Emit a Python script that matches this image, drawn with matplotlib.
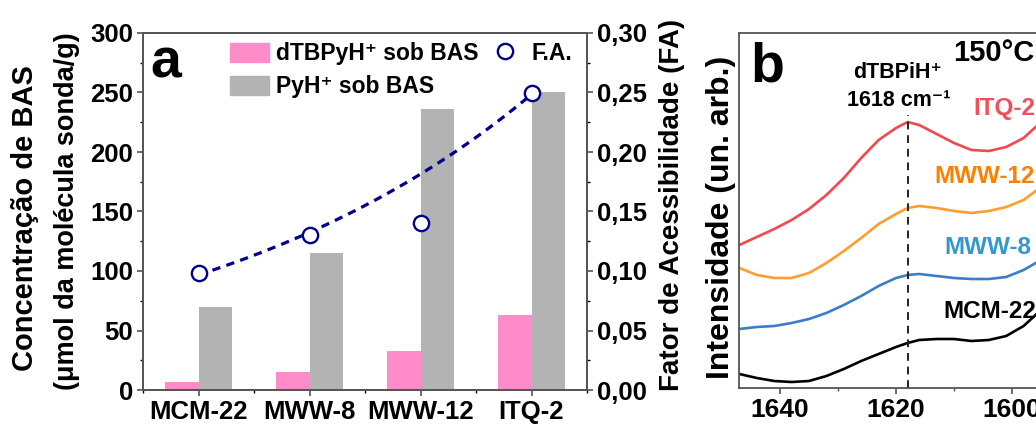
import numpy as np
import matplotlib
matplotlib.use('Agg')
import matplotlib.pyplot as plt
from matplotlib.patches import Patch
from matplotlib.lines import Line2D
from matplotlib.ticker import MultipleLocator, FuncFormatter

plt.rcParams['font.family'] = ['Liberation Sans', 'DejaVu Sans']
plt.rcParams['font.weight'] = 'bold'

# Panel a data
samples = ['MCM-22', 'MWW-8', 'MWW-12', 'ITQ-2']
dtbpy_bas = [7, 15, 33, 63]
pyh_bas = [70, 115, 236, 250]
fa = [0.098, 0.130, 0.140, 0.250]
fit_samples = ['MCM-22', 'MWW-8', 'ITQ-2']

# Panel b data (IR spectra)
wavenumber = [1647, 1644, 1641, 1638, 1635, 1632, 1629, 1626, 1623, 1620,
              1618, 1616, 1613, 1610, 1607, 1604, 1601, 1598, 1595]
itq2 = [1.43, 1.51, 1.59, 1.68, 1.79, 1.93, 2.10, 2.30, 2.48, 2.60,
        2.66, 2.63, 2.54, 2.45, 2.38, 2.37, 2.41, 2.50, 2.66]
mww12 = [1.20, 1.13, 1.10, 1.10, 1.15, 1.25, 1.37, 1.50, 1.64, 1.74,
         1.80, 1.82, 1.80, 1.77, 1.75, 1.77, 1.81, 1.88, 2.01]
mww8 = [0.59, 0.61, 0.62, 0.65, 0.69, 0.75, 0.83, 0.92, 1.02, 1.10,
        1.13, 1.14, 1.12, 1.10, 1.09, 1.09, 1.11, 1.18, 1.28]
mcm22 = [0.14, 0.10, 0.07, 0.06, 0.07, 0.12, 0.19, 0.27, 0.34, 0.41,
         0.45, 0.48, 0.49, 0.49, 0.47, 0.48, 0.52, 0.62, 0.78]
peak_wn = 1618

W, H = 1036, 426
spine_col = '#555555'
navy = '#00008b'


def box(x0, y0, x1, y1):
    return [x0 / W, 1 - y1 / H, (x1 - x0) / W, (y1 - y0) / H]


def style_spines(ax):
    for s in ax.spines.values():
        s.set_color(spine_col)
        s.set_linewidth(1.3)


fig = plt.figure(figsize=(W / 100, H / 100), dpi=100)

# ---- panel a ----
ax = fig.add_axes(box(143, 33, 587, 390))
ax2 = ax.twinx()
x = np.arange(len(samples))
ax.bar(x - 0.15, dtbpy_bas, 0.3, color='#ff8cc8')
ax.bar(x + 0.15, pyh_bas, 0.3, color='#b3b3b3')
ax.set_xlim(-0.5, 3.5)
ax.set_ylim(0, 300)
ax.set_xticks(x)
ax.set_xticklabels(samples)
ax.xaxis.set_minor_locator(MultipleLocator(0.5))
ax.yaxis.set_major_locator(MultipleLocator(50))
ax.yaxis.set_minor_locator(MultipleLocator(25))
ax2.set_ylim(0, 0.30)
ax2.yaxis.set_major_locator(MultipleLocator(0.05))
ax2.yaxis.set_minor_locator(MultipleLocator(0.025))
ax2.yaxis.set_major_formatter(FuncFormatter(lambda v, p: f'{v:.2f}'.replace('.', ',')))

for a in (ax, ax2):
    style_spines(a)
    a.tick_params(which='major', direction='out', length=4, width=1.2,
                  labelsize=18.5, colors='black', pad=3)
    a.tick_params(which='minor', direction='out', length=2.5, width=1.0)
    a.tick_params(axis='both', color=spine_col)
ax.tick_params(axis='x', pad=3)

# exponential guide through F.A. values
idx = [samples.index(s) for s in fit_samples]
coef = np.polyfit(x[idx], np.log(np.array(fa)[idx]), 1)
xf = np.linspace(0, 3, 100)
ax2.plot(xf, np.exp(np.polyval(coef, xf)), color=navy, lw=2.3,
         ls=(0, (2.6, 2.0)), zorder=3)
ax2.plot(x, fa, 'o', mfc='white', mec=navy, ms=11, mew=1.7, zorder=4)

handles = [Patch(color='#ff8cc8'), Patch(color='#b3b3b3'),
           Line2D([], [], ls='none', marker='o', mfc='white', mec=navy, ms=11, mew=1.7),
           Line2D([], [], ls='none')]
labels = ['dTBPyH⁺ sob BAS', 'PyH⁺ sob BAS', 'F.A.', '']
ax2.legend(handles, labels, ncol=2, loc='upper left', frameon=False,
           bbox_to_anchor=(230 / W, 1 - 42 / H), bbox_transform=fig.transFigure,
           fontsize=16.5, handlelength=1.7, handleheight=0.9, handletextpad=0.3,
           columnspacing=0.3, labelspacing=0.45, borderpad=0, borderaxespad=0)

fig.text(150 / W, 1 - 78 / H, 'a', fontsize=40, va='baseline', ha='left')
fig.text(25 / W, 1 - 218 / H, 'Concentração de BAS', rotation=90,
         fontsize=21, ha='center', va='center')
fig.text(67 / W, 1 - 211 / H, '(μmol da molécula sonda/g)', rotation=90,
         fontsize=19.5, ha='center', va='center')
fig.text(672 / W, 1 - 205 / H, 'Fator de Acessibilidade (FA)', rotation=90,
         fontsize=20, ha='center', va='center')

# ---- panel b ----
axb = fig.add_axes(box(739, 33, 1070, 388))
axb.plot(wavenumber, itq2, color='#f5474f', lw=1.9)
axb.plot(wavenumber, mww12, color='#ff9e2c', lw=1.9)
axb.plot(wavenumber, mww8, color='#3a7dc9', lw=1.9)
axb.plot(wavenumber, mcm22, color='black', lw=1.9)
axb.set_xlim(1647.07, 1590)
axb.set_ylim(0, 3.55)
axb.axvline(peak_wn, ymax=0.77, color='#222222', lw=1.4, ls=(0, (4, 3)))
axb.xaxis.set_major_locator(MultipleLocator(20))
axb.xaxis.set_minor_locator(MultipleLocator(10))
axb.set_yticks([])
style_spines(axb)
axb.tick_params(which='major', direction='out', length=4, width=1.2,
                labelsize=19, color=spine_col, pad=3)
axb.tick_params(which='minor', direction='out', length=2.5, width=1.0, color=spine_col)

axb.text(1606.7, 2.80, 'ITQ-2', color='#f0505a', fontsize=17.5, va='center')
axb.text(1613.3, 2.12, 'MWW-12', color='#ff8000', fontsize=17.5, va='center')
axb.text(1611.6, 1.41, 'MWW-8', color='#3399cc', fontsize=17.5, va='center')
axb.text(1611.9, 0.76, 'MCM-22', color='black', fontsize=17.5, va='center')
axb.text(1619.8, 3.15, 'dTBPiH⁺', fontsize=15.5, ha='center', va='center')
axb.text(1619.6, 2.88, '1618 cm⁻¹', fontsize=15.5, ha='center', va='center')
axb.text(1610.2, 3.35, '150°C', fontsize=21, ha='left', va='center')

fig.text(750 / W, 1 - 82 / H, 'b', fontsize=40, va='baseline', ha='left')
fig.text(721 / W, 1 - 217 / H, 'Intensidade (un. arb.)', rotation=90,
         fontsize=23, ha='center', va='center')

fig.savefig('out.png', dpi=100)
